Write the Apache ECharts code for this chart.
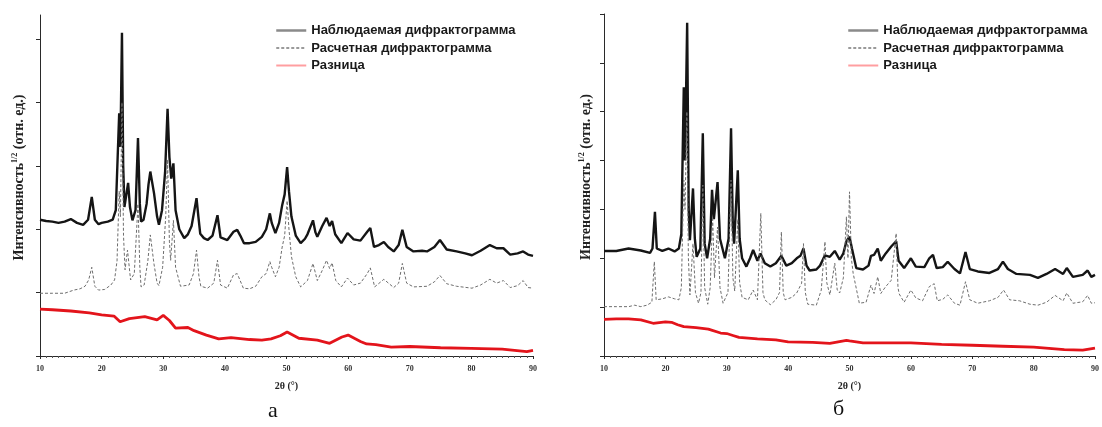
<!DOCTYPE html>
<html><head><meta charset="utf-8">
<script src="https://cdn.jsdelivr.net/npm/echarts@6/dist/echarts.min.js"></script>
<style>html,body{margin:0;padding:0;background:#fff}#c{width:1102px;height:427px}</style>
</head><body><div id="c"></div>
<script>
const seriesNames = ['Наблюдаемая дифрактограмма', 'Расчетная дифрактограмма', 'Разница'];
const panelLabels = ['а', 'б'];
const xTickValues = [10, 20, 30, 40, 50, 60, 70, 80, 90];
const yTicksA = [0, 1, 2, 3, 4, 5];
const yTicksB = [0, 1, 2, 3, 4, 5, 6, 7];

const obsA = [[10,2.15],[11,2.13],[12,2.12],[13,2.1],[14,2.12],[15,2.16],[16,2.1],[17,2.07],[17.8,2.15],[18.4,2.51],[18.9,2.15],[19.5,2.08],[20,2.1],[21,2.12],[21.8,2.15],[22.3,2.3],[22.85,3.83],[23.05,3.3],[23.3,5.1],[23.5,3.0],[23.7,2.35],[24.3,2.73],[24.6,2.35],[25.0,2.14],[25.5,2.3],[25.9,3.44],[26.2,2.4],[26.4,2.12],[26.8,2.15],[27.3,2.4],[27.6,2.7],[27.9,2.91],[28.5,2.57],[29.0,2.2],[29.3,2.07],[29.8,2.3],[30.3,2.9],[30.7,3.9],[31.0,3.14],[31.3,2.8],[31.65,3.04],[32.0,2.3],[32.6,2.0],[33.4,1.86],[34.0,1.92],[34.6,2.05],[35.4,2.49],[35.7,2.2],[36.0,1.93],[36.6,1.86],[37.2,1.83],[38.0,1.9],[38.8,2.22],[39.3,1.87],[40.4,1.83],[41.4,1.96],[42.0,1.99],[42.5,1.9],[43.1,1.78],[44.0,1.78],[45.0,1.8],[46.0,1.88],[46.7,2.0],[47.3,2.25],[47.6,2.1],[48.2,1.94],[48.8,2.1],[49.3,2.38],[49.7,2.55],[50.1,2.98],[50.4,2.6],[50.8,2.2],[51.5,1.9],[52.3,1.78],[53.0,1.85],[53.4,1.92],[54.3,2.14],[54.7,1.95],[55.0,1.88],[55.8,2.05],[56.5,2.18],[57.0,2.05],[57.4,2.13],[57.9,1.92],[58.9,1.78],[59.9,1.94],[60.9,1.84],[62.0,1.82],[63.1,1.96],[63.6,2.02],[64.2,1.72],[65.0,1.75],[65.8,1.8],[66.5,1.72],[67.4,1.65],[68.2,1.75],[68.8,1.99],[69.5,1.72],[70.6,1.65],[72.0,1.66],[72.8,1.65],[74.0,1.72],[74.9,1.83],[76.0,1.68],[77.6,1.65],[79.0,1.62],[80.1,1.59],[81.5,1.66],[83.0,1.75],[84.1,1.7],[85.2,1.7],[86.3,1.6],[87.5,1.62],[88.4,1.65],[89.2,1.6],[90,1.58]];

const calcA = [[10,0.99],[12,0.99],[14,0.99],[15.5,1.04],[16.5,1.06],[17.3,1.1],[17.9,1.2],[18.4,1.4],[18.9,1.1],[19.5,1.04],[20.5,1.05],[21.5,1.12],[22.1,1.2],[22.5,1.5],[22.85,2.6],[23.05,2.2],[23.3,4.0],[23.55,1.9],[23.8,1.36],[24.2,1.67],[24.7,1.2],[25.3,1.3],[25.9,2.4],[26.2,1.4],[26.4,1.09],[26.9,1.12],[27.5,1.5],[27.9,1.91],[28.5,1.45],[29.0,1.15],[29.3,1.11],[29.9,1.4],[30.4,2.2],[30.7,3.1],[31.0,1.8],[31.2,1.51],[31.65,2.14],[32.0,1.4],[32.8,1.1],[34.2,1.12],[34.9,1.3],[35.4,1.67],[35.8,1.25],[36.1,1.1],[37.2,1.07],[38.2,1.15],[38.8,1.51],[39.3,1.12],[40.4,1.07],[41.4,1.28],[42.0,1.3],[43.0,1.07],[44.0,1.06],[45.0,1.1],[46.0,1.25],[46.7,1.3],[47.3,1.49],[47.6,1.4],[48.2,1.25],[48.8,1.4],[49.3,1.72],[49.7,1.9],[50.1,2.45],[50.4,2.0],[50.8,1.57],[51.5,1.25],[52.3,1.09],[53.4,1.19],[54.3,1.46],[55.0,1.19],[55.8,1.35],[56.5,1.51],[57.0,1.38],[57.4,1.47],[58.0,1.19],[58.9,1.09],[59.9,1.23],[60.9,1.12],[62.0,1.15],[63.1,1.3],[63.6,1.39],[64.3,1.09],[65.8,1.21],[67.4,1.08],[68.2,1.15],[68.8,1.46],[69.5,1.15],[70.6,1.09],[72.8,1.1],[74.0,1.17],[74.9,1.27],[76.0,1.14],[77.6,1.1],[80.1,1.07],[81.5,1.12],[83.0,1.21],[84.1,1.15],[85.2,1.19],[86.3,1.08],[87.5,1.11],[88.4,1.19],[89.2,1.08],[90,1.07]];

const diffA = [[10,0.74],[12,0.73],[15,0.71],[18,0.68],[20,0.65],[22,0.63],[23,0.54],[24.5,0.59],[27,0.62],[29,0.57],[30,0.64],[31,0.56],[32,0.44],[34,0.45],[35,0.4],[37,0.33],[39,0.27],[41,0.29],[44,0.26],[46,0.25],[47.5,0.27],[49,0.32],[50.1,0.38],[52,0.28],[55,0.25],[57,0.2],[59,0.3],[60,0.33],[62,0.23],[63,0.19],[64.5,0.18],[67,0.14],[70,0.15],[75,0.13],[80,0.12],[85,0.11],[87,0.09],[89,0.07],[90,0.09]];

const obsB = [[10,2.15],[12,2.15],[14,2.2],[16,2.16],[17.5,2.11],[17.9,2.2],[18.3,2.95],[18.6,2.2],[19.5,2.15],[20.5,2.2],[21.5,2.14],[22.2,2.2],[22.6,2.5],[23.0,5.5],[23.2,4.0],[23.55,6.82],[23.8,3.0],[24.0,2.37],[24.5,3.43],[24.8,2.4],[25.1,2.03],[25.7,2.2],[26.1,4.56],[26.4,2.3],[26.8,2.0],[27.3,2.4],[27.6,3.4],[27.9,2.8],[28.5,3.56],[28.9,2.4],[29.7,2.0],[30.3,2.4],[30.7,4.66],[31.0,2.6],[31.2,2.3],[31.8,3.8],[32.1,2.4],[32.5,2.0],[33.2,1.83],[33.8,2.0],[34.3,2.17],[35.0,1.95],[35.5,2.1],[36.2,1.9],[37.1,1.83],[38.0,1.9],[38.9,2.05],[39.7,1.85],[40.6,1.9],[41.4,2.0],[42.0,2.05],[42.5,2.2],[43.0,1.85],[43.5,1.75],[44.6,1.77],[45.2,1.85],[46.0,2.06],[46.8,2.03],[47.6,2.15],[48.4,1.97],[49.0,2.1],[49.5,2.35],[50.0,2.44],[50.4,2.2],[51.1,1.8],[52.2,1.77],[53.1,1.85],[53.5,2.05],[54.0,2.07],[54.6,2.2],[55.1,1.95],[55.9,2.1],[56.8,2.24],[57.6,2.35],[58.0,1.95],[58.9,1.8],[60.0,2.0],[60.8,1.83],[62.2,1.82],[63.0,2.0],[63.6,2.07],[64.2,1.8],[65.2,1.82],[66.0,1.93],[67.1,1.78],[68.0,1.69],[68.9,2.13],[69.6,1.78],[70.9,1.73],[72.8,1.7],[74.2,1.78],[75.0,1.93],[75.8,1.78],[77.2,1.68],[79.4,1.66],[80.7,1.6],[82.1,1.68],[83.5,1.78],[84.8,1.68],[85.4,1.8],[86.4,1.62],[88.0,1.66],[88.8,1.75],[89.4,1.62],[90,1.66]];

const calcB = [[10,1.01],[12,1.01],[14,1.01],[15,1.04],[16,1.01],[17,1.04],[17.8,1.1],[18.2,1.93],[18.5,1.15],[19.5,1.17],[20.5,1.21],[21.5,1.17],[22.2,1.15],[22.6,1.4],[23.0,3.6],[23.2,3.0],[23.5,5.0],[23.75,2.0],[24.0,1.25],[24.5,2.3],[24.9,1.3],[25.4,1.08],[25.8,1.3],[26.1,3.5],[26.4,1.4],[26.9,1.06],[27.3,1.4],[27.7,2.85],[28.0,1.6],[28.5,2.64],[28.9,1.4],[29.4,1.08],[30.2,1.3],[30.7,3.6],[31.0,1.6],[31.3,1.33],[31.8,2.8],[32.1,1.5],[32.5,1.2],[33.5,1.15],[34.3,1.35],[35.0,1.15],[35.55,2.92],[35.9,1.3],[36.2,1.15],[37.1,1.05],[38.0,1.15],[38.6,1.3],[38.9,2.54],[39.2,1.3],[39.5,1.15],[40.6,1.2],[41.4,1.29],[42.2,1.49],[42.5,2.3],[42.8,1.3],[43.2,1.06],[44.6,1.04],[45.4,1.35],[46.0,2.34],[46.3,1.5],[46.8,1.25],[47.6,1.9],[48.0,1.35],[48.4,1.29],[49.0,1.6],[49.5,2.85],[49.75,2.0],[50.0,3.36],[50.3,2.0],[50.6,1.69],[51.6,1.08],[52.7,1.1],[53.5,1.45],[54.0,1.28],[54.6,1.62],[55.1,1.28],[55.9,1.42],[56.8,1.55],[57.6,2.51],[57.9,1.4],[58.1,1.27],[58.9,1.1],[60.0,1.35],[60.8,1.19],[61.9,1.13],[63.0,1.42],[63.8,1.48],[64.3,1.13],[65.2,1.16],[66.0,1.25],[67.1,1.08],[68.0,1.04],[68.9,1.52],[69.6,1.15],[70.9,1.08],[72.8,1.13],[74.2,1.2],[75.1,1.35],[76.1,1.15],[77.7,1.13],[79.4,1.06],[80.7,1.04],[82.1,1.1],[83.5,1.24],[84.8,1.13],[85.4,1.29],[86.4,1.08],[88.0,1.11],[88.8,1.24],[89.4,1.08],[90,1.09]];

const diffB = [[10,0.75],[12,0.76],[14,0.76],[16,0.74],[18,0.67],[20,0.7],[21,0.69],[22,0.64],[23,0.6],[25,0.58],[27,0.55],[29,0.47],[30,0.46],[31,0.42],[32,0.38],[35,0.35],[38,0.33],[40,0.29],[44,0.28],[46.8,0.26],[49.5,0.32],[50,0.31],[52.2,0.27],[56,0.27],[60,0.27],[65,0.24],[70,0.22],[75,0.2],[80,0.18],[85,0.13],[88,0.12],[90,0.16]];

const SERIF = '"Liberation Serif", "DejaVu Serif", serif';
const SANS = '"Liberation Sans", Arial, sans-serif';
const AXIS_COLOR = '#2a2a2a';

function makeX(gi) {
  return {
    type: 'value', gridIndex: gi, min: 10, max: 90, interval: 10,
    name: '2θ (°)', nameLocation: 'middle', nameGap: 25,
    nameTextStyle: { fontFamily: SERIF, fontWeight: 'bold', fontSize: 10, color: '#222' },
    axisLine: { lineStyle: { color: AXIS_COLOR, width: 1 } },
    axisTick: { show: true, length: 3, lineStyle: { color: AXIS_COLOR } },
    minorTick: { show: true, splitNumber: 10, length: 2, lineStyle: { color: '#555' } },
    splitLine: { show: false },
    axisLabel: { fontFamily: SERIF, fontWeight: 'bold', fontSize: 8, color: '#333', margin: 9 }
  };
}
function makeY(gi, max, ticks, gap) {
  return {
    type: 'value', gridIndex: gi, min: 0, max: max, interval: 1,
    name: '{a|Интенсивность}{s|1/2}{a| (отн. ед.)}',
    nameLocation: 'middle', nameRotate: 90, nameGap: gap,
    nameTextStyle: {
      padding: [0, 0, 0, 16],
      rich: {
        a: { fontFamily: SERIF, fontWeight: 'bold', fontSize: 14, color: '#222', lineHeight: 17 },
        s: { fontFamily: SERIF, fontWeight: 'bold', fontSize: 8, color: '#222', verticalAlign: 'top', lineHeight: 17 }
      }
    },
    axisLine: { show: true, lineStyle: { color: AXIS_COLOR, width: 1 } },
    axisTick: { show: true, length: 4, customValues: ticks, lineStyle: { color: AXIS_COLOR } },
    axisLabel: { show: false },
    splitLine: { show: false }
  };
}
function mkSeries(gi, name, data, style, z) {
  return { type: 'line', name: name, xAxisIndex: gi, yAxisIndex: gi, data: data,
    symbol: 'none', showSymbol: false, lineStyle: style, itemStyle: { color: style.color }, z: z };
}
const obsStyle = { color: '#151515', width: 2.4 };
const calcStyle = { color: '#6e6e6e', width: 1, type: [3, 2] };
const diffStyle = { color: '#e3141b', width: 2.8 };

function makeLegend(left) {
  return {
    show: true, orient: 'vertical', left: left, top: 24, padding: 0,
    itemWidth: 30, itemHeight: 10, itemGap: 4.5,
    selectedMode: false,
    itemStyle: { opacity: 0 },
    textStyle: { fontFamily: SANS, fontWeight: 'bold', fontSize: 13, lineHeight: 10, color: '#1a1a1a' },
    data: [
      { name: seriesNames[0], lineStyle: { color: '#8a8a8a', width: 2.5 } },
      { name: seriesNames[1], lineStyle: { color: '#9a9a9a', width: 2 } },
      { name: seriesNames[2], lineStyle: { color: '#ff9ea0', width: 2 } }
    ]
  };
}

const chart = echarts.init(document.getElementById('c'), null, { renderer: 'canvas' });
chart.setOption({
  animation: false,
  backgroundColor: '#ffffff',
  grid: [
    { left: 40, top: 15, width: 493, height: 341 },
    { left: 604, top: 14, width: 493, height: 342 }
  ],
  xAxis: [makeX(0), makeX(1)],
  yAxis: [makeY(0, 5.38, yTicksA, 12), makeY(1, 7, yTicksB, 9)],
  legend: [makeLegend(275), makeLegend(847)],
  series: [
    mkSeries(0, seriesNames[2], diffA, diffStyle, 2),
    mkSeries(0, seriesNames[0], obsA, obsStyle, 3),
    mkSeries(0, seriesNames[1], calcA, calcStyle, 4),
    mkSeries(1, seriesNames[2], diffB, diffStyle, 2),
    mkSeries(1, seriesNames[0], obsB, obsStyle, 3),
    mkSeries(1, seriesNames[1], calcB, calcStyle, 4)
  ],
  graphic: [
    { type: 'text', left: 268, top: 400, style: { text: panelLabels[0], font: '22px "Liberation Serif", serif', fill: '#111' } },
    { type: 'text', left: 833, top: 398, style: { text: panelLabels[1], font: '22px "Liberation Serif", serif', fill: '#111' } }
  ]
});
</script>
</body></html>
